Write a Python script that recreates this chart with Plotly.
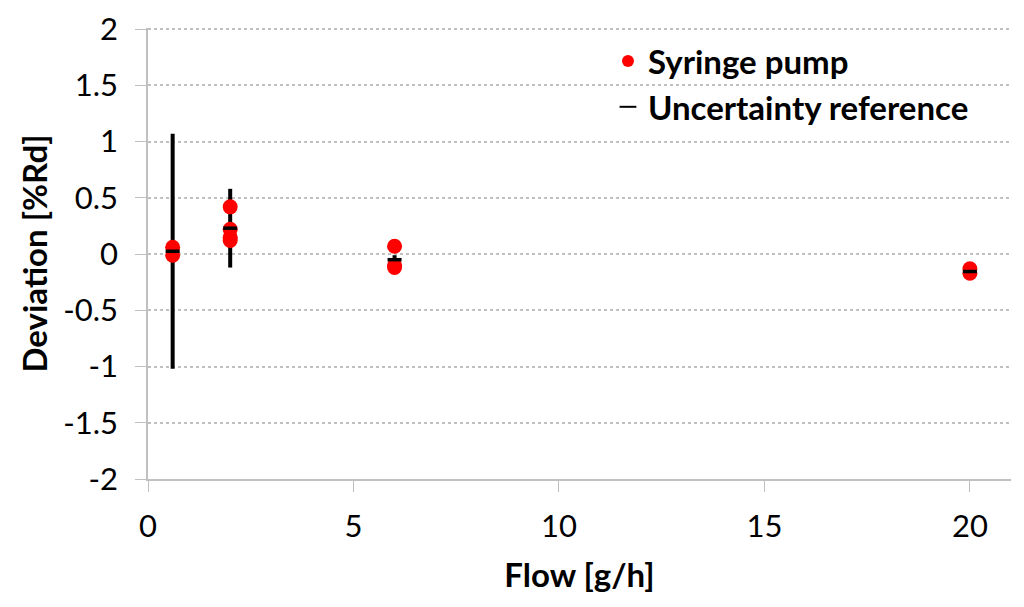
import plotly.graph_objects as go

# Syringe pump measurements
pump_flow = [0.6, 0.6, 2, 2, 2, 2, 6, 6, 6, 20, 20]
pump_dev = [0.06, -0.01, 0.42, 0.22, 0.15, 0.12, 0.07, -0.10, -0.12, -0.13, -0.17]

# Uncertainty reference
ref_flow = [0.6, 2, 6, 20]
ref_dev = [0.025, 0.23, -0.05, -0.155]
ref_unc = [1.045, 0.35, 0.04, 0.01]

x_ticks = [0, 5, 10, 15, 20]
y_ticks = [2, 1.5, 1, 0.5, 0, -0.5, -1, -1.5, -2]

FONT = "Lato, 'Open Sans', sans-serif"
GRAY = "#c0c0c0"

fig = go.Figure()
fig.add_trace(go.Scatter(
    x=ref_flow, y=ref_dev, mode="markers",
    marker=dict(size=1, color="rgba(0,0,0,0)"),
    error_y=dict(type="data", array=ref_unc, symmetric=True, color="black", thickness=4, width=0),
    showlegend=False, hoverinfo="skip"))
fig.add_trace(go.Scatter(
    x=pump_flow, y=pump_dev, mode="markers", name="Syringe pump",
    marker=dict(color="#ff0000", size=15, symbol="circle")))
fig.add_trace(go.Scatter(
    x=ref_flow, y=ref_dev, mode="markers", name="Uncertainty reference",
    marker=dict(symbol="line-ew", size=10, line=dict(color="black", width=3.5), color="black")))

fig.update_layout(
    width=1024, height=607,
    paper_bgcolor="white", plot_bgcolor="white",
    margin=dict(l=140, r=21, t=20, b=136),
    font=dict(family=FONT, color="black"),
    legend=dict(x=0.533, y=0.989, xanchor="left", yanchor="top",
                bgcolor="rgba(0,0,0,0)", font=dict(size=33, family=FONT, weight="bold"),
                itemsizing="constant", tracegroupgap=0),
)
fig.update_xaxes(
    range=[0, 21], tickvals=x_ticks, ticktext=[str(v) for v in x_ticks],
    showgrid=False, zeroline=False, showline=True, linecolor=GRAY, linewidth=1.5,
    ticks="outside", ticklen=11, tickcolor=GRAY, tickfont=dict(size=31),
    ticklabelstandoff=8, automargin=False, ticklabeloverflow="allow",
    title=dict(text="<b>Flow [g/h]</b>", font=dict(size=33), standoff=21))
fig.update_yaxes(
    range=[-2, 2.01], tickvals=y_ticks, ticktext=[str(v) for v in y_ticks],
    showgrid=True, gridcolor=GRAY, griddash="dot", gridwidth=1.5,
    zeroline=False, showline=True, linecolor=GRAY, linewidth=1.5,
    ticks="outside", ticklen=11, tickcolor=GRAY, tickfont=dict(size=31),
    ticklabelstandoff=11, automargin=False, ticklabeloverflow="allow",
    title=dict(text="<b>Deviation [%Rd]</b>", font=dict(size=33), standoff=6))

fig.write_html("out.html")
